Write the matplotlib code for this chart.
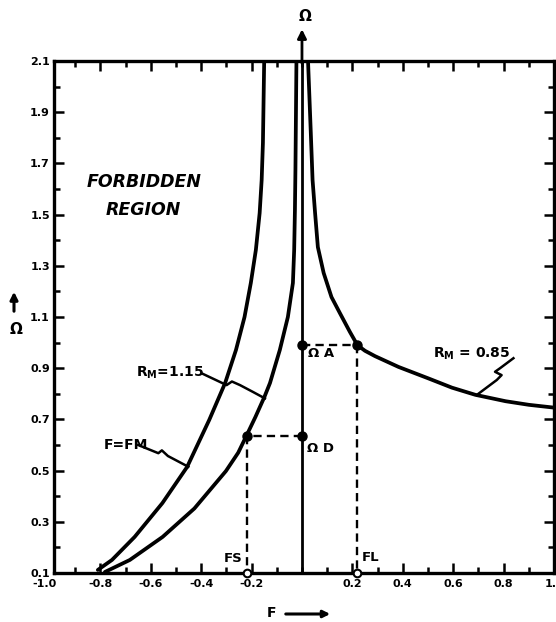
import matplotlib
matplotlib.use("Agg")
import matplotlib.pyplot as plt
from matplotlib.ticker import MultipleLocator, FixedLocator

plt.rcParams['font.family'] = ['DejaVu Sans']
plt.rcParams['font.weight'] = 'bold'

# ---- data ----
# outer curve, F = FM
om_fm = [0.112, 0.151, 0.241, 0.373, 0.514, 0.698, 0.842, 0.971, 1.10, 1.233,
         1.362, 1.506, 1.635, 1.78, 2.1]
f_fm = [-0.810, -0.754, -0.664, -0.554, -0.456, -0.368, -0.305, -0.262, -0.228,
        -0.203, -0.183, -0.168, -0.160, -0.155, -0.150]

# inner left curve, R_M = 1.15
om_r115 = [0.104, 0.151, 0.241, 0.352, 0.498, 0.57, 0.639, 0.709, 0.788, 0.842,
           0.971, 1.10, 1.233, 1.362, 1.518, 1.674, 2.1]
f_r115 = [-0.782, -0.683, -0.553, -0.427, -0.302, -0.253, -0.219, -0.185, -0.149,
          -0.127, -0.088, -0.056, -0.036, -0.031, -0.028, -0.026, -0.022]

# right curve, R_M = 0.85
f_r085 = [0.024, 0.035, 0.042, 0.052, 0.063, 0.086, 0.117, 0.150, 0.190, 0.22,
          0.25, 0.290, 0.383, 0.502, 0.595, 0.688, 0.808, 0.900, 1.0]
om_r085 = [2.1, 1.819, 1.635, 1.506, 1.373, 1.272, 1.178, 1.116, 1.042, 0.99,
           0.968, 0.947, 0.905, 0.860, 0.824, 0.796, 0.771, 0.757, 0.746]

# characteristic points
FS, OMEGA_D = -0.22, 0.635
FL, OMEGA_A = 0.22, 0.99

x_ticks = [-0.8, -0.6, -0.4, -0.2, 0.2, 0.4, 0.6, 0.8, 1.0]
x_ticklabels = ["-0.8", "-0.6", "-0.4", "-0.2", "0.2", "0.4", "0.6", "0.8", "1.0"]
y_ticks = [0.1, 0.3, 0.5, 0.7, 0.9, 1.1, 1.3, 1.5, 1.7, 1.9, 2.1]
y_ticklabels = ["0.1", "0.3", "0.5", "0.7", "0.9", "1.1", "1.3", "1.5", "1.7", "1.9", "2.1"]

# ---- figure ----
fig = plt.figure(figsize=(5.56, 6.22), dpi=100)
ax = fig.add_axes([54/556, 49/622, 500/556, 512/622])
ax.set_xlim(-0.984, 1.0)
ax.set_ylim(0.1, 2.1)

for s in ax.spines.values():
    s.set_linewidth(2.4)
    s.set_color('black')

ax.xaxis.set_major_locator(FixedLocator(x_ticks))
ax.set_xticklabels(x_ticklabels)
ax.xaxis.set_minor_locator(MultipleLocator(0.1))
ax.yaxis.set_major_locator(FixedLocator(y_ticks))
ax.set_yticklabels(y_ticklabels)
ax.yaxis.set_minor_locator(MultipleLocator(0.1))
ax.tick_params(which='both', direction='in', top=True, right=True, width=1.8,
               labelsize=8)
ax.tick_params(which='major', length=7)
ax.tick_params(which='minor', length=4.5)
ax.tick_params(axis='y', pad=3)
ax.tick_params(axis='x', pad=4)
for lab in ax.get_xticklabels() + ax.get_yticklabels():
    lab.set_fontweight('heavy')
# -1.0 label lies just left of the frame in the original
ax.annotate("-1.0", xy=(-1.02, 0.1), xycoords='data', xytext=(0, -4),
            textcoords='offset points', ha='center', va='top', fontsize=8,
            fontweight='heavy', annotation_clip=False)

# curves
lw = 2.7
for fx, oy in ((f_fm, om_fm), (f_r115, om_r115), (f_r085, om_r085)):
    ax.plot(fx, oy, color='black', lw=lw, solid_joinstyle='round',
            solid_capstyle='round')

# vertical Omega axis with arrow above the frame
ax.plot([0, 0], [0.1, 2.1], color='black', lw=2.0)
ax.annotate('', xy=(0, 2.235), xytext=(0, 2.08), xycoords='data',
            arrowprops=dict(arrowstyle='-|>', lw=2.0, color='black', mutation_scale=13),
            annotation_clip=False)
ax.text(0.012, 2.275, "Ω", ha='center', va='center', fontsize=11, fontweight='bold',
        clip_on=False)

# dashed construction lines
dash = dict(color='black', lw=1.7, dashes=(3.5, 2.2))
ax.plot([0, FS], [OMEGA_D, OMEGA_D], **dash)
ax.plot([FS, FS], [OMEGA_D, 0.1], **dash)
ax.plot([0, FL], [OMEGA_A, OMEGA_A], **dash)
ax.plot([FL, FL], [OMEGA_A, 0.1], **dash)

# points
ax.plot([0, FS, 0, FL], [OMEGA_D, OMEGA_D, OMEGA_A, OMEGA_A], 'o', color='black',
        ms=6.5, zorder=5)
ax.plot([FS, FL], [0.1, 0.1], 'o', mfc='white', mec='black', mew=1.5, ms=5.5,
        zorder=6, clip_on=False)

# text labels
ax.text(-0.627, 1.627, "FORBIDDEN", ha='center', va='center', fontsize=12.5,
        fontweight='heavy', fontstyle='italic')
ax.text(-0.631, 1.518, "REGION", ha='center', va='center', fontsize=12.5,
        fontweight='heavy', fontstyle='italic')
ax.text(0.075, 0.959, "Ω A", ha='center', va='center', fontsize=9.5, fontweight='bold')
ax.text(0.075, 0.588, "Ω D", ha='center', va='center', fontsize=9.5, fontweight='bold')
ax.text(-0.274, 0.158, "FS", ha='center', va='center', fontsize=9.5, fontweight='bold')
ax.text(0.272, 0.162, "FL", ha='center', va='center', fontsize=9.5, fontweight='bold')
ax.text(-0.524, 0.881, r"R$_\mathbf{M}$=1.15", ha='center', va='center', fontsize=10,
        fontweight='heavy')
ax.text(-0.70, 0.60, "F=FM", ha='center', va='center', fontsize=10, fontweight='heavy')
ax.text(0.675, 0.955, r"R$_\mathbf{M}$ = 0.85", ha='center', va='center', fontsize=10,
        fontweight='heavy')

# leader squiggles
lead = dict(color='black', lw=1.8, solid_joinstyle='round')
ax.plot([-0.398, -0.299, -0.278, -0.246, -0.194, -0.147],
        [0.880, 0.834, 0.848, 0.834, 0.807, 0.782], **lead)
ax.plot([-0.650, -0.570, -0.556, -0.532, -0.451],
        [0.600, 0.568, 0.579, 0.557, 0.515], **lead)
ax.plot([0.839, 0.786, 0.766, 0.792, 0.773, 0.693],
        [0.939, 0.900, 0.886, 0.873, 0.854, 0.795], **lead)

# axis names outside the frame
fig.text(16/556, 1 - 330/622, "Ω", ha='center', va='center', fontsize=11, fontweight='bold')
fig.patches.append(matplotlib.patches.FancyArrowPatch(
    (14/556, 1 - 314/622), (14/556, 1 - 289/622), transform=fig.transFigure,
    arrowstyle='-|>', mutation_scale=11, lw=2.2, color='black'))
fig.text(272/556, 1 - 613/622, "F", ha='center', va='center', fontsize=10, fontweight='heavy')
fig.patches.append(matplotlib.patches.FancyArrowPatch(
    (283/556, 1 - 614/622), (333/556, 1 - 614/622), transform=fig.transFigure,
    arrowstyle='-|>', mutation_scale=10, lw=2.2, color='black'))

fig.savefig("out.png", dpi=100)
